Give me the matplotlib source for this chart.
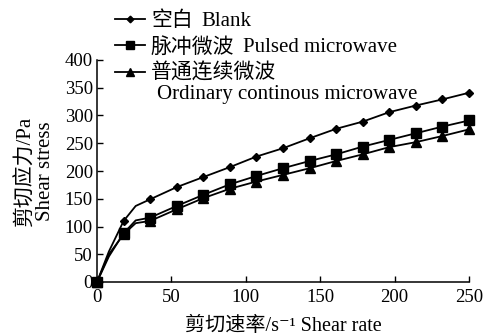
import matplotlib
matplotlib.use("Agg")
import matplotlib.pyplot as plt
from matplotlib.lines import Line2D

plt.rcParams['font.family'] = ['Liberation Serif', 'Noto Sans CJK SC', 'DejaVu Serif']

# marker data
shear_rate = [0, 17.9, 35.7, 53.6, 71.4, 89.3, 107.1, 125.0, 142.9, 160.7, 178.6, 196.4, 214.3, 232.1, 250.0]
blank = [0, 110, 149, 171, 189, 207, 226, 241, 259, 276, 289, 306, 318, 329, 341]
pulsed = [0, 88, 116, 137, 157, 176, 191, 205, 218, 230, 244, 256, 268, 280, 291]
ordinary = [0, 86, 110, 131, 151, 168, 181, 193, 205, 218, 230, 243, 252, 263, 275]

# extra curve points (measured, no marker)
extra_rate = [8.0, 26.0]
blank_extra = [55, 137]
pulsed_extra = [46, 111]
ordinary_extra = [50, 106]

labels_cn = ["空白", "脉冲微波", "普通连续微波"]
labels_en = ["Blank", "Pulsed microwave", "Ordinary continous microwave"]
xticks = [0, 50, 100, 150, 200, 250]
yticks = [0, 50, 100, 150, 200, 250, 300, 350, 400]

def merge(xm, ym, xe, ye):
    pts = sorted(list(zip(xm, ym)) + list(zip(xe, ye)))
    xs = [p[0] for p in pts]
    ys = [p[1] for p in pts]
    idx = [xs.index(v) for v in xm]
    return xs, ys, idx

W, H = 487, 336
fig = plt.figure(figsize=(W/100, H/100), dpi=100)
ax = fig.add_axes([97/W, 1-282/H, (469-97)/W, (282-60)/H])

series = [(blank, blank_extra, 'D', 4.5), (pulsed, pulsed_extra, 's', 7.5), (ordinary, ordinary_extra, '^', 7)]
handles = []
for (ys, ye, mk, ms) in series:
    xs, yy, idx = merge(shear_rate, ys, extra_rate, ye)
    ax.plot(xs, yy, color='black', lw=1.3, marker=mk, ms=ms, markevery=idx, clip_on=False, zorder=3)
    handles.append(Line2D([], [], color='black', lw=1.3, marker=mk, ms=ms*0.75))

ax.set_xlim(0, 250)
ax.set_ylim(0, 400)
ax.set_xticks(xticks)
ax.set_yticks(yticks)
for s in ['top', 'right']:
    ax.spines[s].set_visible(False)
for s in ['left', 'bottom']:
    ax.spines[s].set_linewidth(1.1)
ax.tick_params(direction='in', length=4.5, width=1.0, labelsize=13.5)
ax.tick_params(axis='x', pad=5)
ax.tick_params(axis='y', pad=3)

ax.set_xlabel("剪切速率/s⁻¹ Shear rate", fontsize=14.5, labelpad=8)
ax.set_ylabel("剪切应力/Pa\nShear stress", fontsize=15, labelpad=7, linespacing=1.05)

leg = fig.legend(handles, labels_cn, loc='upper left', bbox_to_anchor=(102/W, 1.008 - 2/H),
                 frameon=False, fontsize=15, handlelength=1.45, handletextpad=0.3,
                 labelspacing=0.3, borderaxespad=0.2)

fig.canvas.draw()
renderer = fig.canvas.get_renderer()
inv = fig.transFigure.inverted()
for i, (t, en) in enumerate(zip(leg.get_texts(), labels_en)):
    bb = t.get_window_extent(renderer)
    x0, y0 = inv.transform((bb.x1, bb.y0))
    x1, y1 = inv.transform((bb.x0, bb.y1))
    yc = (y0 + y1) / 2
    if i < 2:
        fig.text(x0 + 9/W, yc, en, fontsize=15, va='center', ha='left')
    else:
        fig.text(x1 + 6/W, yc - 21/H, en, fontsize=15, va='center', ha='left')

fig.savefig("out.png", dpi=100)
